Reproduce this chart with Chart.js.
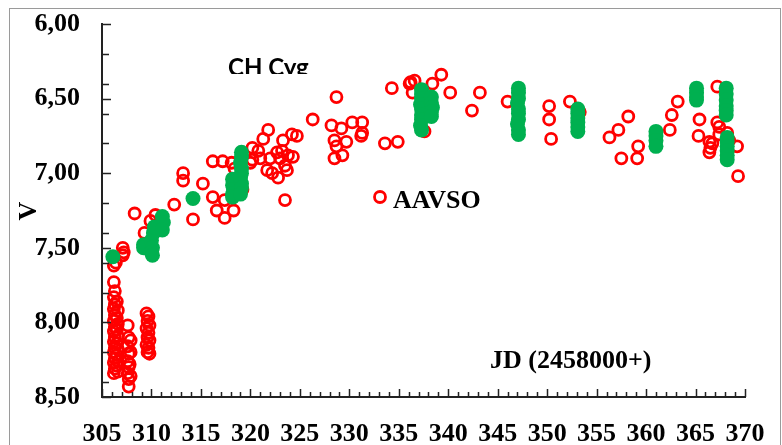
<!DOCTYPE html>
<html>
<head>
<meta charset="utf-8">
<script src="https://cdn.jsdelivr.net/npm/chart.js@4"></script>
<style>
  body { margin: 0; background: #fff; }
</style>
</head>
<body>
<canvas id="chart" width="782" height="445"></canvas>
<script>
// AAVSO V magnitudes, [JD - 2458000, V]
const aavso306 = [
    [306.2, 7.62], [306.2, 7.73], [306.3, 7.79], [306.2, 7.83], [306.3, 7.88], [306.2, 7.91],
    [306.3, 7.95], [306.2, 7.99], [306.3, 8.03], [306.2, 8.06], [306.3, 8.10], [306.2, 8.13],
    [306.3, 8.17], [306.2, 8.20], [306.3, 8.24], [306.2, 8.27], [306.3, 8.31], [306.2, 8.34],
    [306.5, 7.86], [306.6, 7.92], [306.5, 7.97], [306.6, 8.01], [306.5, 8.05], [306.6, 8.09],
    [306.5, 8.14], [306.6, 8.18], [306.5, 8.22], [306.6, 8.26], [306.5, 8.29], [306.6, 8.33],
    [306.4, 7.60], [307.1, 7.50], [307.2, 7.53], [307.1, 7.55]
];
const aavso307 = [
    [307.6, 8.02], [307.7, 8.10], [307.6, 8.16], [307.7, 8.21], [307.6, 8.26], [307.7, 8.30],
    [307.6, 8.34], [307.7, 8.38], [307.7, 8.43], [307.9, 8.12], [307.9, 8.20], [307.8, 8.28],
    [307.9, 8.36], [308.3, 7.27]
];
const aavso309 = [
    [309.5, 7.94], [309.7, 7.96], [309.6, 7.99], [309.8, 8.02], [309.5, 8.04], [309.7, 8.07],
    [309.6, 8.10], [309.8, 8.12], [309.5, 8.15], [309.7, 8.17], [309.6, 8.20], [309.8, 8.21],
    [309.3, 7.40], [310.4, 7.28], [309.9, 7.32], [312.3, 7.21]
];
const aavso313 = [
    [313.2, 7.00], [313.2, 7.05], [315.2, 7.07], [314.2, 7.31], [316.2, 6.92], [317.2, 6.92],
    [316.2, 7.16], [316.6, 7.25], [317.4, 7.18], [317.4, 7.30], [318.3, 7.25], [318.1, 6.93],
    [318.4, 6.97], [319.2, 7.11], [318.6, 7.08], [320.2, 6.91], [320.0, 6.93], [320.2, 6.83]
];
const aavso320 = [
    [320.8, 6.85], [321.0, 6.90], [321.8, 6.71], [321.3, 6.77], [322.0, 6.90], [321.7, 6.98],
    [322.2, 7.00], [322.8, 7.03], [323.7, 6.98], [323.8, 6.88], [324.3, 6.89], [323.2, 6.85],
    [324.2, 6.74], [323.3, 6.78], [322.7, 6.86], [323.0, 6.90], [323.5, 7.18], [324.7, 6.75],
    [323.5, 6.95]
];
const aavso326 = [
    [326.3, 6.64], [328.7, 6.49], [328.2, 6.68], [329.2, 6.70], [330.3, 6.66], [331.3, 6.66],
    [331.3, 6.73], [331.2, 6.75], [328.5, 6.78], [329.7, 6.79], [328.7, 6.82], [329.3, 6.88],
    [328.5, 6.90], [333.6, 6.80], [334.9, 6.79]
];
const aavso334 = [
    [334.3, 6.43], [336.1, 6.40], [336.6, 6.38], [336.2, 6.39], [336.4, 6.46], [338.4, 6.40],
    [339.3, 6.34], [340.2, 6.46], [337.6, 6.72], [342.4, 6.58], [343.2, 6.46], [346.0, 6.52],
    [350.2, 6.55], [350.2, 6.64], [350.4, 6.77], [352.3, 6.52], [353.3, 6.59]
];
const aavso356 = [
    [356.3, 6.76], [357.2, 6.71], [358.2, 6.62], [357.5, 6.90], [359.2, 6.82], [359.1, 6.90],
    [362.4, 6.71], [362.6, 6.61], [363.2, 6.52], [365.4, 6.64], [365.3, 6.75], [367.2, 6.42],
    [366.4, 6.79], [366.5, 6.83], [366.4, 6.86], [366.7, 6.80], [367.2, 6.66], [367.4, 6.69],
    [367.4, 6.74], [368.2, 6.73], [368.4, 6.78], [369.2, 6.82], [369.3, 7.02]
];

// own photometry (green)
const own306 = [
    [306.1, 7.56], [309.2, 7.48], [309.2, 7.50], [310.0, 7.45], [310.1, 7.50], [310.0, 7.53],
    [310.1, 7.55], [310.2, 7.40], [310.3, 7.36], [311.1, 7.29], [311.2, 7.33], [311.1, 7.38],
    [314.2, 7.17]
];
const own318 = [
    [318.2, 7.04], [318.2, 7.08], [318.3, 7.11], [318.2, 7.14], [318.2, 7.16],
    [319.1, 6.86], [319.1, 6.89], [319.0, 6.93], [319.1, 6.97], [319.1, 7.00], [319.0, 7.03],
    [319.1, 7.07], [319.1, 7.10], [319.0, 7.14]
];
const own337 = [
    [337.3, 6.44], [337.3, 6.47], [337.3, 6.50], [337.2, 6.54], [337.3, 6.57], [337.3, 6.61],
    [337.3, 6.64], [337.2, 6.68], [337.3, 6.71], [338.3, 6.49], [338.3, 6.53], [338.4, 6.56],
    [338.3, 6.59], [338.3, 6.62]
];
const own347 = [
    [347.1, 6.43], [347.1, 6.46], [347.1, 6.50], [347.0, 6.53], [347.1, 6.57], [347.1, 6.60],
    [347.1, 6.64], [347.0, 6.67], [347.1, 6.71], [347.1, 6.74],
    [353.1, 6.57], [353.1, 6.60], [353.1, 6.63], [353.1, 6.66], [353.1, 6.69], [353.1, 6.72]
];
const own361 = [
    [361.0, 6.72], [361.0, 6.75], [361.0, 6.78], [361.0, 6.82],
    [365.1, 6.43], [365.1, 6.46], [365.1, 6.49], [365.1, 6.51],
    [368.1, 6.43], [368.1, 6.47], [368.1, 6.51], [368.1, 6.55], [368.1, 6.58], [368.1, 6.61],
    [368.2, 6.76], [368.2, 6.79], [368.2, 6.82], [368.2, 6.85], [368.2, 6.88], [368.2, 6.91]
];

const aavsoPoints = [].concat(aavso306, aavso307, aavso309, aavso313, aavso320, aavso326, aavso334, aavso356);
const ownPoints = [].concat(own306, own318, own337, own347, own361);

const serif = '"Liberation Serif", "Times New Roman", serif';
const red = '#FF0000';
const green = '#00B050';

const toXY = (p) => ({ x: p[0], y: p[1] });

// fixed axis boxes, no extra room for end labels
const fixBox = (w, h) => (scale) => {
    if (w) scale.width = w;
    if (h) scale.height = h;
    scale.paddingTop = 0;
    scale.paddingBottom = 0;
    scale.paddingLeft = 0;
    scale.paddingRight = 0;
};

const decor = {
    id: 'decor',
    beforeDraw(chart) {
        const ctx = chart.ctx;
        ctx.save();
        ctx.fillStyle = '#fff';
        ctx.fillRect(0, 0, chart.width, chart.height);
        ctx.strokeStyle = '#9a9a9a';
        ctx.lineWidth = 1;
        ctx.strokeRect(9.5, 8.5, 771, 460);
        ctx.restore();
    },
    afterDraw(chart) {
        const ctx = chart.ctx;
        const xs = chart.scales.x;
        const ys = chart.scales.y;
        ctx.save();
        // inside ticks
        ctx.strokeStyle = '#222';
        ctx.lineWidth = 1.5;
        ctx.beginPath();
        for (let v = 305; v <= 370; v++) {
            const px = Math.round(xs.getPixelForValue(v)) + 0.5;
            const len = v % 5 === 0 ? 8 : 5;
            ctx.moveTo(px, ys.bottom);
            ctx.lineTo(px, ys.bottom - len);
        }
        for (let k = 0; k <= 25; k++) {
            if (k % 2 !== 0 && k % 5 !== 0) continue;
            const py = Math.round(ys.getPixelForValue(6 + k / 10)) + 0.5;
            const len = k % 5 === 0 ? 9 : 7;
            ctx.moveTo(xs.left, py);
            ctx.lineTo(xs.left + len, py);
        }
        ctx.stroke();

        ctx.fillStyle = '#000';
        // axis title V
        ctx.save();
        ctx.translate(29, 211);
        ctx.rotate(-Math.PI / 2);
        ctx.font = 'bold 26px ' + serif;
        ctx.textAlign = 'center';
        ctx.textBaseline = 'middle';
        ctx.fillText('V', 0, 0);
        ctx.restore();

        // title, clipped as in the original
        ctx.save();
        ctx.beginPath();
        ctx.rect(0, 0, chart.width, 74);
        ctx.clip();
        ctx.font = 'bold 24px Lato, "Noto Sans", sans-serif';
        ctx.textAlign = 'left';
        ctx.textBaseline = 'alphabetic';
        ctx.fillText('CH Cyg', 228, 76);
        ctx.restore();

        // legend entry
        ctx.strokeStyle = red;
        ctx.lineWidth = 2.8;
        ctx.beginPath();
        ctx.arc(380, 197, 5.5, 0, Math.PI * 2);
        ctx.stroke();
        ctx.font = 'bold 26px ' + serif;
        ctx.textAlign = 'left';
        ctx.textBaseline = 'alphabetic';
        ctx.fillText('AAVSO', 393, 208);

        // x-axis title
        ctx.fillText('JD (2458000+)', 490, 368);
        ctx.restore();
    }
};

const ctx = document.getElementById('chart').getContext('2d');

new Chart(ctx, {
    type: 'scatter',
    data: {
        datasets: [
            {
                label: 'own',
                data: ownPoints.map(toXY),
                pointRadius: 7.5,
                pointBackgroundColor: green,
                pointBorderWidth: 0,
                pointBorderColor: green
            },
            {
                label: 'AAVSO',
                data: aavsoPoints.map(toXY),
                pointRadius: 5.5,
                pointBorderWidth: 2.8,
                pointBorderColor: red,
                pointBackgroundColor: 'rgba(255,255,255,0)'
            }
        ]
    },
    options: {
        responsive: false,
        animation: false,
        events: [],
        layout: {
            autoPadding: false,
            padding: { top: 24, right: 37, left: 0, bottom: 0 }
        },
        plugins: {
            legend: { display: false },
            tooltip: { enabled: false }
        },
        scales: {
            x: {
                type: 'linear',
                min: 305,
                max: 370,
                afterFit: fixBox(0, 48),
                ticks: {
                    stepSize: 5,
                    color: '#000',
                    padding: 22,
                    maxRotation: 0,
                    font: { family: serif, size: 26, weight: 'bold' }
                },
                grid: { display: false, drawTicks: false },
                border: { display: true, color: '#222', width: 2 }
            },
            y: {
                min: 6,
                max: 8.5,
                reverse: true,
                afterFit: fixBox(102, 0),
                ticks: {
                    stepSize: 0.5,
                    color: '#000',
                    padding: 22,
                    font: { family: serif, size: 26, weight: 'bold' },
                    callback: (v) => v.toFixed(2).replace('.', ',')
                },
                grid: { display: false, drawTicks: false },
                border: { display: true, color: '#222', width: 2 }
            }
        }
    },
    plugins: [decor]
});
</script>
</body>
</html>
